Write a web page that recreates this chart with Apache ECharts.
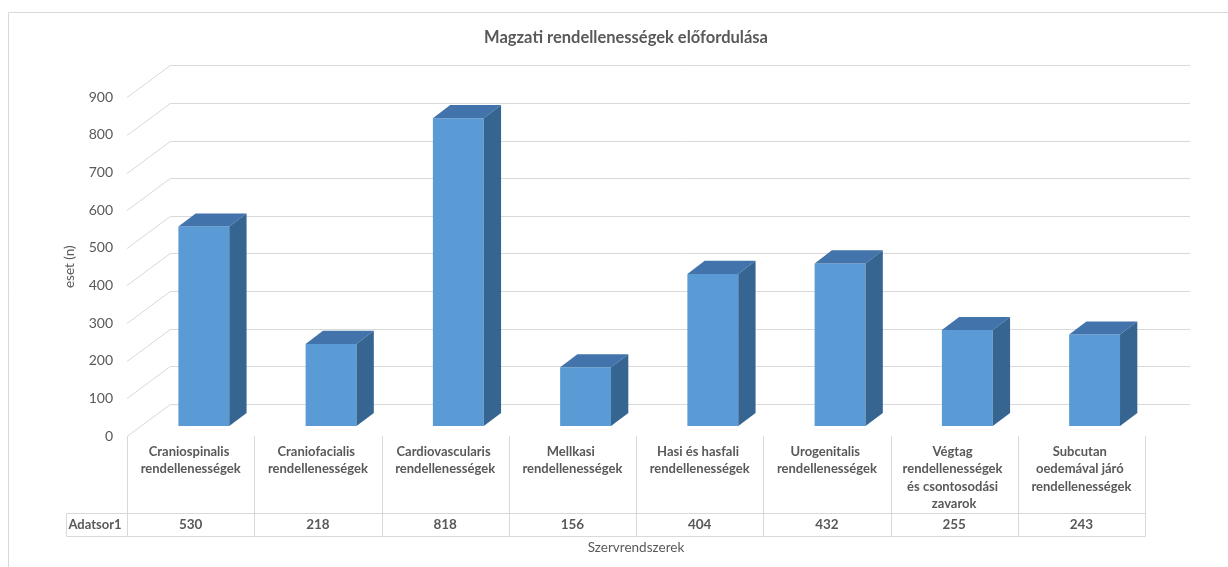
<!DOCTYPE html>
<html>
<head>
    <meta charset="utf-8">
    <script src="https://cdn.jsdelivr.net/npm/echarts@6/dist/echarts.min.js"></script>
    <title>Magzati rendellenességek</title>
    <style type="text/css">
        html, body { margin: 0; padding: 0; background: #fff; }
    </style>
</head>
<body>
    <div id="main" style="width:1228px; height:567px;"></div>
    <script type="text/javascript">
        var categories = [
            'Craniospinalis rendellenességek',
            'Craniofacialis rendellenességek',
            'Cardiovascularis rendellenességek',
            'Mellkasi rendellenességek',
            'Hasi és hasfali rendellenességek',
            'Urogenitalis rendellenességek',
            'Végtag rendellenességek és csontosodási zavarok',
            'Subcutan oedemával járó rendellenességek'
        ];
        var seriesName = 'Adatsor1';
        var values = [530, 218, 818, 156, 404, 432, 255, 243];
        var yTicks = [0, 100, 200, 300, 400, 500, 600, 700, 800, 900];

        var TXT = '#595959';
        var LINE = '#d9d9d9';
        var FONT = 'Lato';
        // fake 3d: back wall offset, bar front offset, bar depth
        var WALL_DX = 43.3, WALL_DY = -32.7;
        var BAR_DX = 13.2, BAR_DY = -10;
        var DEPTH_DX = 17.3, DEPTH_DY = -13.1;

        var myChart = echarts.init(document.getElementById('main'));

        option = {
            backgroundColor: '#fff',
            animation: false,
            title: {
                text: 'Magzati rendellenességek előfordulása',
                left: 621,
                textAlign: 'center',
                top: 24,
                textStyle: { fontFamily: FONT, fontSize: 16.5, fontWeight: 'bold', color: TXT }
            },
            grid: { left: 127, top: 97.3, width: 1018, height: 338.7 },
            xAxis: {
                type: 'category',
                data: categories,
                name: 'Szervrendszerek',
                nameLocation: 'middle',
                nameGap: 105,
                nameTextStyle: { fontFamily: FONT, fontSize: 13.5, color: TXT },
                axisLine: { show: false },
                axisTick: { show: false },
                axisLabel: {
                    interval: 0,
                    margin: 7,
                    width: 120,
                    overflow: 'break',
                    lineHeight: 17.5,
                    fontFamily: FONT, fontSize: 13, fontWeight: 'bold', color: TXT
                }
            },
            yAxis: {
                type: 'value',
                min: 0,
                max: 900,
                interval: 100,
                name: 'eset (n)',
                nameLocation: 'middle',
                nameGap: 50,
                nameTextStyle: { fontFamily: FONT, fontSize: 13.5, color: TXT },
                axisLine: { show: false },
                axisTick: { show: false },
                splitLine: { show: false },
                axisLabel: { margin: 14, fontFamily: FONT, fontSize: 14, color: TXT }
            },
            graphic: [
                {
                    type: 'rect', silent: true, z: -10,
                    shape: { x: 8.5, y: 12.5, width: 1240, height: 600 },
                    style: { fill: null, stroke: LINE, lineWidth: 1 }
                },
                {
                    type: 'text', silent: true,
                    style: { text: seriesName, x: 95, y: 524.5, align: 'center', verticalAlign: 'middle',
                        font: 'bold 13px ' + FONT, fill: TXT }
                },
                {
                    type: 'polyline', silent: true,
                    shape: { points: [[127, 513.5], [66.5, 513.5], [66.5, 536.5], [127, 536.5]] },
                    style: { stroke: LINE, lineWidth: 1, fill: null }
                }
            ],
            series: [
                {
                    // back wall gridlines + diagonals
                    type: 'custom',
                    z: 1,
                    silent: true,
                    clip: false,
                    data: yTicks.map(function (t) { return [0, t]; }),
                    encode: { x: 0, y: 1 },
                    renderItem: function (params, api) {
                        var cs = params.coordSys;
                        var y = Math.round(api.coord([0, api.value(1)])[1]) + 0.5;
                        var x0 = cs.x;
                        var bx = x0 + WALL_DX, by = Math.round(y + WALL_DY) + 0.5;
                        return {
                            type: 'polyline',
                            shape: { points: [[x0, y], [bx, by], [cs.x + cs.width + 45, by]] },
                            style: { stroke: LINE, lineWidth: 1, fill: null }
                        };
                    }
                },
                {
                    name: seriesName,
                    type: 'custom',
                    z: 3,
                    clip: false,
                    data: values.map(function (v, i) { return [i, v]; }),
                    encode: { x: 0, y: 1 },
                    renderItem: function (params, api) {
                        var i = api.value(0);
                        var base = api.coord([i, 0]);
                        var top = api.coord([i, api.value(1)]);
                        var w = api.size([1, 0])[0] * 0.4;
                        var cx = base[0] + BAR_DX;
                        var x0 = cx - w / 2, x1 = cx + w / 2;
                        var yb = base[1] + BAR_DY, yt = top[1] + BAR_DY;
                        return {
                            type: 'group',
                            children: [
                                {
                                    type: 'rect',
                                    shape: { x: x0, y: yt, width: w, height: yb - yt },
                                    style: { fill: '#5b9bd5' }
                                },
                                {
                                    type: 'polygon',
                                    shape: { points: [[x0, yt], [x1, yt], [x1 + DEPTH_DX, yt + DEPTH_DY], [x0 + DEPTH_DX, yt + DEPTH_DY]] },
                                    style: { fill: '#4273ab' }
                                },
                                {
                                    type: 'polygon',
                                    shape: { points: [[x1, yt], [x1 + DEPTH_DX, yt + DEPTH_DY], [x1 + DEPTH_DX, yb + DEPTH_DY], [x1, yb]] },
                                    style: { fill: '#376592' }
                                }
                            ]
                        };
                    }
                },
                {
                    // data table under the axis
                    type: 'custom',
                    z: 2,
                    silent: true,
                    clip: false,
                    data: values.map(function (v, i) { return [i, v]; }),
                    encode: { x: 0 },
                    renderItem: function (params, api) {
                        var i = api.value(0);
                        var p = api.coord([i, 0]);
                        var band = api.size([1, 0])[0];
                        var l = Math.round(p[0] - band / 2) + 0.5, r = Math.round(p[0] + band / 2) + 0.5;
                        var y0 = Math.round(p[1]);
                        var lineStyle = { stroke: LINE, lineWidth: 1, fill: null };
                        var kids = [
                            { type: 'line', shape: { x1: l, y1: y0, x2: l, y2: y0 + 100.5 }, style: lineStyle },
                            { type: 'line', shape: { x1: l, y1: y0 + 77.5, x2: r, y2: y0 + 77.5 }, style: lineStyle },
                            { type: 'line', shape: { x1: l, y1: y0 + 100.5, x2: r, y2: y0 + 100.5 }, style: lineStyle },
                            {
                                type: 'text',
                                style: { text: String(api.value(1)), x: p[0], y: y0 + 88.5, align: 'center', verticalAlign: 'middle',
                                    font: 'bold 13.5px ' + FONT, fill: TXT }
                            }
                        ];
                        if (i === values.length - 1) {
                            kids.push({ type: 'line', shape: { x1: r, y1: y0, x2: r, y2: y0 + 100.5 }, style: lineStyle });
                        }
                        return { type: 'group', children: kids };
                    }
                }
            ]
        };

        myChart.setOption(option);
    </script>
</body>
</html>
